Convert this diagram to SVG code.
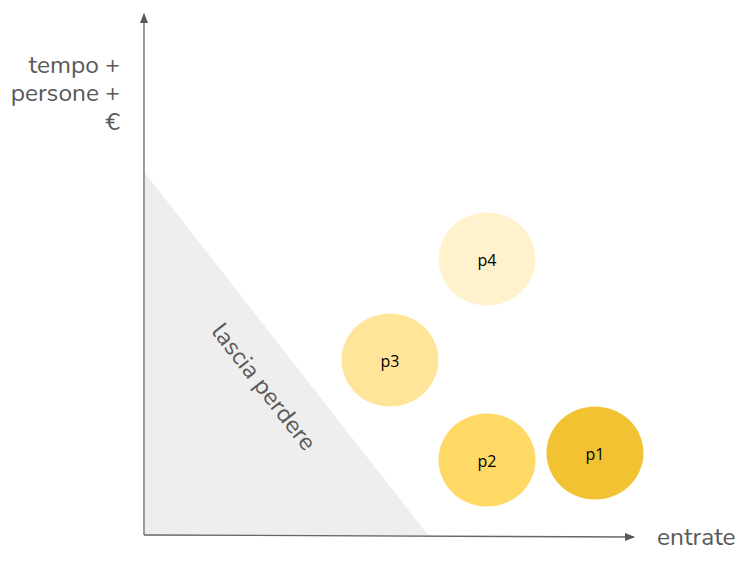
<svg xmlns="http://www.w3.org/2000/svg" width="753" height="564" viewBox="0 0 753 564">
<style>
.lbl{font-family:"Nunito","Lato","Open Sans",sans-serif;font-size:24.5px;fill:#595959}
.node text{font-family:"Open Sans","Liberation Sans",sans-serif;font-size:16px;fill:#000;text-anchor:middle;dominant-baseline:central}
.axis{stroke:#666;stroke-width:1.3;fill:none}
</style>
<defs>
<marker id="ah" markerWidth="10" markerHeight="8" refX="9" refY="4" orient="auto" markerUnits="userSpaceOnUse">
<path d="M0,0 L10,4 L0,8 Z" fill="#595959"/>
</marker>
</defs>
<rect width="753" height="564" fill="#fff"/>
<g id="zone">
<polygon points="145,173 145,535 428,535" fill="#eeeeee"/>
<text class="lbl" transform="translate(264,387) rotate(52)" text-anchor="middle" dominant-baseline="central">lascia perdere</text>
</g>
<g id="axes">
<line class="axis" x1="144" y1="535" x2="144" y2="14" marker-end="url(#ah)"/>
<line class="axis" x1="144" y1="535" x2="634" y2="537" marker-end="url(#ah)"/>
</g>
<g id="labels">
<text class="lbl" x="120" y="73" text-anchor="end">tempo +</text>
<text class="lbl" x="120" y="101" text-anchor="end">persone +</text>
<text class="lbl" x="120" y="130" text-anchor="end">€</text>
<text class="lbl" x="657" y="545">entrate</text>
</g>
<g id="p4" class="node"><ellipse cx="487" cy="259" rx="48.5" ry="46.5" fill="#fff2cc"/><text x="487" y="260">p4</text></g>
<g id="p3" class="node"><ellipse cx="390" cy="360" rx="48.5" ry="46.5" fill="#ffe599"/><text x="390" y="361">p3</text></g>
<g id="p2" class="node"><ellipse cx="487" cy="460" rx="48.5" ry="46.5" fill="#ffd966"/><text x="487" y="461">p2</text></g>
<g id="p1" class="node"><ellipse cx="595" cy="453" rx="48.5" ry="46.5" fill="#f1c232"/><text x="595" y="454">p1</text></g>
</svg>
